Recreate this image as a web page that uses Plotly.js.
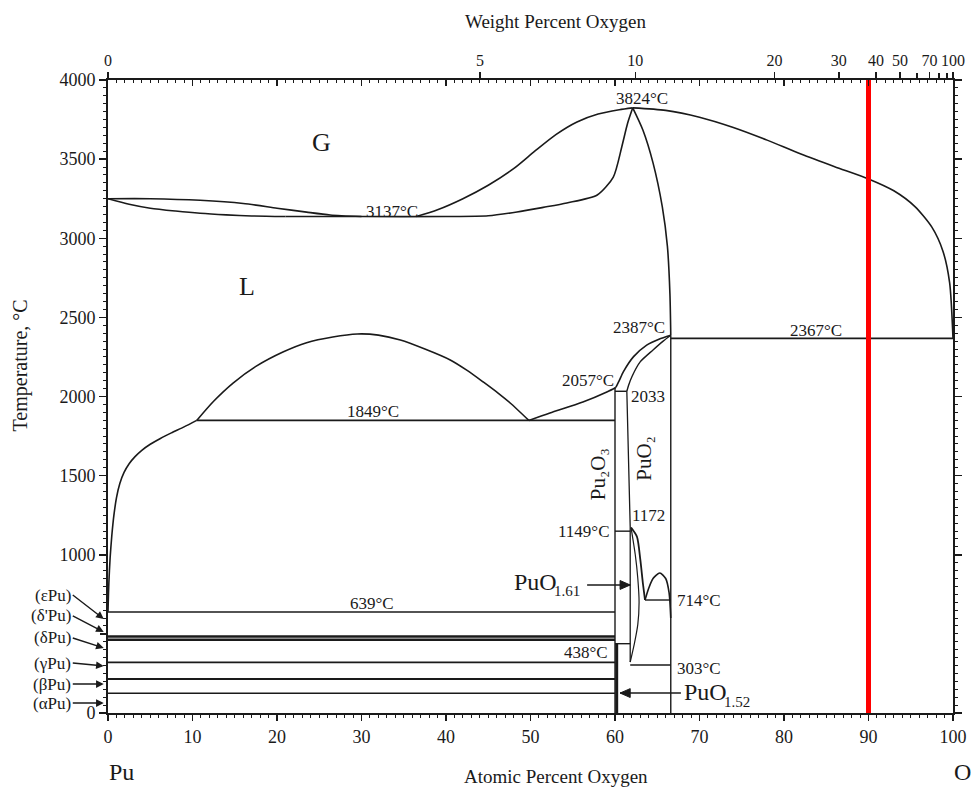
<!DOCTYPE html>
<html><head><meta charset="utf-8">
<script src="https://cdn.plot.ly/plotly-3.0.1.min.js"></script>
<style>html,body{margin:0;padding:0;background:#fff}#chart{width:974px;height:789px}</style>
</head><body><div id="chart"></div>
<script>
// ---------- axis ticks ----------
const atomicTicks = [0,10,20,30,40,50,60,70,80,90,100];
const tempTicks = [0,1000,1500,2000,2500,3000,3500,4000];
const tempTicksUnlabeled = [500];
const weightTicks = [0,5,10,20,30,40,50,70,100];
const weightTickText = ['0','5','10','20','30','40','50','70','100'];
const weightTicksUnlabeled = [60,80,90];

// ---------- phase boundaries (X = at.% O, T = °C) ----------
const dewPuX = [0, 5, 10.9, 16, 20, 23.5, 26.3, 30];
const dewPuT = [3250, 3250, 3240, 3220, 3190, 3165, 3147, 3137];
const bubblePuX = [0, 2.5, 5, 8, 10.9, 14, 17, 21];
const bubblePuT = [3250, 3215, 3190, 3172, 3158, 3148, 3141, 3137];
const liqBoilX = [21, 30, 40, 45, 48.4, 51.5, 54.3, 57.9, 59.8, 60.8, 61.5, 62.1];
const liqBoilT = [3137, 3137, 3137, 3142, 3166, 3195, 3223, 3273, 3387, 3577, 3728, 3824];
const gasLeftX = [36.5, 39, 42, 45, 48, 50.5, 53, 55.5, 58, 60.5, 62.1];
const gasLeftT = [3137, 3180, 3250, 3335, 3440, 3550, 3655, 3735, 3785, 3812, 3824];
const gasRightX = [62.1, 66, 70, 74, 78, 82, 86, 90, 93, 95.5, 97.5, 98.8, 99.6, 100];
const gasRightT = [3824, 3808, 3765, 3700, 3620, 3532, 3452, 3375, 3300, 3200, 3070, 2920, 2720, 2367];
const liqPuO2HighX = [62.1, 63.3, 64.5, 65.6, 66.2, 66.5, 66.6];
const liqPuO2HighT = [3824, 3684, 3476, 3198, 2950, 2650, 2387];
const puo2X = [66.6, 66.6];
const puo2T = [0, 2387];
const mono2367X = [66.6, 100];
const mono2367T = [2367, 2367];
const gapX = [10.5, 12.5, 14.8, 17.5, 20.7, 23.5, 26.6, 29.5, 32, 34.6, 37.5, 40.5, 42.5, 44.4, 46.2, 47.6, 49.8];
const gapT = [1849, 1970, 2085, 2190, 2281, 2340, 2376, 2395, 2388, 2357, 2300, 2231, 2165, 2092, 2020, 1959, 1849];
const mono1849X = [10.5, 60];
const mono1849T = [1849, 1849];
const liqPuX = [0, 0.1, 0.25, 0.45, 0.7, 1.0, 1.4, 1.9, 2.5, 3.2, 4.0, 5.0, 6.2, 7.5, 9.0, 10.5];
const liqPuT = [640, 820, 980, 1120, 1250, 1360, 1450, 1520, 1575, 1620, 1660, 1698, 1735, 1770, 1808, 1849];
const liqPu2O3LeftX = [49.8, 52.3, 56.2, 59.1, 60.1];
const liqPu2O3LeftT = [1849, 1896, 1965, 2030, 2057];
const liqPu2O3RightX = [60.1, 60.5, 61.0, 62.2, 63.75, 65.2, 66.6];
const liqPu2O3RightT = [2057, 2100, 2157, 2252, 2325, 2362, 2387];
const solPuO2X = [61.4, 61.6, 62.0, 63.0, 64.5, 65.7, 66.6];
const solPuO2T = [2033, 2070, 2125, 2220, 2294, 2350, 2387];
const eut2033X = [60, 61.4];
const eut2033T = [2033, 2033];
const pu2o3X = [60, 60];
const pu2o3T = [0, 2057];
const puo152X = [60.2, 60.2];
const puo152T = [0, 438];
const solvusPuO2X = [61.4, 61.6, 61.8, 61.8];
const solvusPuO2T = [2033, 1600, 1172, 322];
const eut1149X = [60, 61.8];
const eut1149T = [1149, 1149];
const solvusLowX = [61.9, 62.6, 63.0, 63.3, 63.55];
const solvusLowT = [1172, 1114, 967, 820, 714];
const lensX = [61.9, 62.4, 62.7, 62.85, 62.7, 62.3, 61.8];
const lensT = [1172, 1000, 850, 700, 560, 440, 322];
const domeX = [63.55, 64.0, 64.5, 65.3, 66.0, 66.4, 66.6];
const domeT = [714, 790, 850, 885, 850, 760, 600];
const eut714X = [63.55, 66.6];
const eut714T = [714, 714];
const eut438X = [60, 61.8];
const eut438T = [438, 438];
const eut303X = [61.8, 66.6];
const eut303T = [303, 303];
const puTransX = [0, 60];
const puTransT = [639, 483, 463, 320, 215, 125];
const markerLineX = 90;

// ---------- labels ----------
const puPhaseLabels = ['(εPu)', "(δ'Pu)", '(δPu)', '(γPu)', '(βPu)', '(αPu)'];
const puPhaseArrowT = [594, 512, 411, 297, 183, 63];
const tempLabels = ['3137°C','3824°C','2387°C','2367°C','2057°C','2033','1849°C','639°C','1149°C','1172','714°C','438°C','303°C'];
const tempLabelX = [33.6, 63.2, 62.8, 83.8, 56.8, 63.9, 31.4, 31.2, 56.3, 64.0, 69.9, 56.6, 69.9];
const tempLabelT = [3172, 3880, 2439, 2414, 2104, 2003, 1908, 692, 1150, 1245, 708, 385, 284];
// composition pointers: PuO1.61 (arrow points right), PuO1.52 (arrow points left)
const puo161ArrowX = [56.7, 61.8];
const puo161ArrowT = 809;
const puo152ArrowX = [67.8, 60.6];
const puo152ArrowT = 126;

// ---------- build ----------
const INK = '#1a1a1a';
const FONT = 'Liberation Serif, Times New Roman, serif';
const traces = [];
function addLine(xs, ts, w, spline) {
  traces.push({x: xs, y: ts, type: 'scatter', mode: 'lines', hoverinfo: 'skip', showlegend: false,
    line: {color: INK, width: w || 1.6, shape: spline ? 'spline' : 'linear', smoothing: 0.7}});
}
addLine(dewPuX, dewPuT, 1.6, true);
addLine(bubblePuX, bubblePuT, 1.6, true);
addLine(liqBoilX, liqBoilT, 1.6, true);
addLine(gasLeftX, gasLeftT, 1.6, true);
addLine(gasRightX, gasRightT, 1.6, true);
addLine(liqPuO2HighX, liqPuO2HighT, 1.6, true);
addLine(puo2X, puo2T, 1.4);
addLine(mono2367X, mono2367T, 1.6);
addLine(gapX, gapT, 1.6, true);
addLine(mono1849X, mono1849T, 1.6);
addLine(liqPuX, liqPuT, 1.6, true);
addLine(liqPu2O3LeftX, liqPu2O3LeftT, 1.6, true);
addLine(liqPu2O3RightX, liqPu2O3RightT, 1.6, true);
addLine(solPuO2X, solPuO2T, 1.4, true);
addLine(eut2033X, eut2033T, 1.4);
addLine(pu2o3X, pu2o3T, 1.4);
addLine(puo152X, puo152T, 3);
addLine(solvusPuO2X, solvusPuO2T, 1.3);
addLine(eut1149X, eut1149T, 1.4);
addLine(solvusLowX, solvusLowT, 1.8, true);
addLine(lensX, lensT, 1.2, true);
addLine(domeX, domeT, 1.6, true);
addLine(eut714X, eut714T, 1.4);
addLine(eut438X, eut438T, 1.4);
addLine(eut303X, eut303T, 1.4);
const puTransW = [1.5, 2.6, 2.6, 1.6, 2.0, 1.6];
puTransT.forEach((t, i) => addLine(puTransX, [t, t], puTransW[i]));
traces.push({x: [markerLineX, markerLineX], y: [0, 4000], type: 'scatter', mode: 'lines', hoverinfo: 'skip',
  showlegend: false, line: {color: '#ff0000', width: 5}});
['x2', 'x3', 'x4'].forEach(ax => traces.push({x: [], y: [], xaxis: ax, type: 'scatter', showlegend: false}));
traces.push({x: [], y: [], yaxis: 'y2', type: 'scatter', showlegend: false});

function wtToAt(w) { const o = w / 16.0, p = (100 - w) / 239.05; return 100 * o / (o + p); }

// arrows drawn as shapes (shaft + filled head)
const shapes = [];
function arrowShape(x0, x1, t) {
  shapes.push({type: 'line', xref: 'x', yref: 'y', x0: x0, x1: x1, y0: t, y1: t, line: {color: INK, width: 1.5}});
  const dir = Math.sign(x1 - x0), back = x1 - dir * 1.2;
  shapes.push({type: 'path', xref: 'x', yref: 'y', path: `M ${x1},${t} L ${back},${t + 28} L ${back},${t - 28} Z`,
    fillcolor: INK, line: {color: INK, width: 1}});
}
arrowShape(puo161ArrowX[0], puo161ArrowX[1], puo161ArrowT);
arrowShape(puo152ArrowX[0], puo152ArrowX[1], puo152ArrowT);

const annotations = [];
function textAt(x, y, text, size, extra) {
  annotations.push(Object.assign({x: x, y: y, xref: 'x', yref: 'y', text: text, showarrow: false,
    xanchor: 'center', yanchor: 'middle', font: {family: FONT, size: size, color: INK}}, extra || {}));
}
tempLabels.forEach((t, i) => textAt(tempLabelX[i], tempLabelT[i], t, 17));
const puArrowDy = [-24, -16, -10, -3, 0, 0];
puPhaseLabels.forEach((t, i) => annotations.push({x: -0.005, y: puPhaseArrowT[i], xref: 'paper', yref: 'y', text: t,
  showarrow: true, arrowhead: 2, arrowsize: 1.1, arrowwidth: 1.4, arrowcolor: INK, xanchor: 'right', yanchor: 'middle',
  ax: -31, ay: puArrowDy[i], font: {family: FONT, size: 17, color: INK}}));
textAt(47.8, 828, 'PuO', 24, {xanchor: 'left'});
textAt(52.6, 772, '1.61', 15, {xanchor: 'left'});
textAt(67.9, 130, 'PuO', 24, {xanchor: 'left'});
textAt(72.7, 72, '1.52', 15, {xanchor: 'left'});
textAt(58.0, 1510, 'Pu₂O₃', 21, {textangle: -90});
textAt(63.4, 1611, 'PuO₂', 21, {textangle: -90});
textAt(25.3, 3608, 'G', 26);
textAt(16.4, 2692, 'L', 26);
function paperText(x, y, text, size, extra) {
  annotations.push(Object.assign({x: x, y: y, xref: 'paper', yref: 'paper', text: text, showarrow: false,
    xanchor: 'center', yanchor: 'middle', font: {family: FONT, size: size, color: INK}}, extra || {}));
}
paperText(0.0154, -0.093, 'Pu', 24);
paperText(1.0107, -0.093, 'O', 24);
// axis titles placed where the reference draws them
paperText(0.53, -0.101, 'Atomic Percent Oxygen', 19);
paperText(0.53, 1.092, 'Weight Percent Oxygen', 19);
paperText(-0.103, 0.549, 'Temperature, °C', 20, {textangle: -90});

const tickFont = {family: FONT, size: 18, color: INK};
const layout = {
  width: 974, height: 789,
  margin: {l: 108, r: 21, t: 80, b: 76},
  paper_bgcolor: '#fff', plot_bgcolor: '#fff',
  showlegend: false,
  xaxis: {range: [0, 100], tickmode: 'array', tickvals: atomicTicks, ticks: 'outside', ticklen: 6, tickwidth: 1.5,
    tickcolor: INK, showline: true, linewidth: 2, linecolor: INK, showgrid: false, zeroline: false, tickangle: 0,
    tickfont: tickFont, minor: {tickmode: 'linear', tick0: 0, dtick: 1, ticks: 'outside', ticklen: 3, tickcolor: INK, tickwidth: 1}},
  xaxis2: {range: [0, 100], overlaying: 'x', side: 'top', anchor: 'y', tickmode: 'array',
    tickvals: weightTicks.map(wtToAt), ticktext: weightTickText, ticks: 'outside', ticklen: 6, tickwidth: 1.5,
    tickcolor: INK, showline: true, linewidth: 2, linecolor: INK, showgrid: false, zeroline: false, tickangle: 0,
    tickfont: {family: FONT, size: 16, color: INK}},
  xaxis3: {range: [0, 100], overlaying: 'x', side: 'top', anchor: 'y', tickmode: 'array', tickvals: atomicTicks,
    ticks: 'inside', ticklen: 6, tickwidth: 1.3, tickcolor: INK, showticklabels: false, showline: false,
    showgrid: false, zeroline: false,
    minor: {tickmode: 'linear', tick0: 0, dtick: 1, ticks: 'inside', ticklen: 3, tickcolor: INK, tickwidth: 1}},
  xaxis4: {range: [0, 100], overlaying: 'x', side: 'top', anchor: 'y', tickmode: 'array',
    tickvals: weightTicksUnlabeled.map(wtToAt), ticks: 'outside', ticklen: 6, tickwidth: 1.5, tickcolor: INK,
    showticklabels: false, showline: false, showgrid: false, zeroline: false},
  yaxis: {range: [0, 4000], tickmode: 'array', tickvals: tempTicks, ticks: 'outside', ticklen: 7, tickwidth: 1.5,
    tickcolor: INK, showline: true, linewidth: 2, linecolor: INK, mirror: 'ticks', showgrid: false, zeroline: false,
    tickfont: tickFont, minor: {tickmode: 'linear', tick0: 0, dtick: 50, ticks: 'outside', ticklen: 3, tickcolor: INK, tickwidth: 1}},
  yaxis2: {range: [0, 4000], overlaying: 'y', side: 'left', anchor: 'x', tickmode: 'array', tickvals: tempTicksUnlabeled,
    ticks: 'outside', ticklen: 7, tickwidth: 1.5, tickcolor: INK, showticklabels: false, showline: false,
    showgrid: false, zeroline: false},
  shapes: shapes,
  annotations: annotations
};
Plotly.newPlot('chart', traces, layout, {displayModeBar: false, staticPlot: true});
</script></body></html>
